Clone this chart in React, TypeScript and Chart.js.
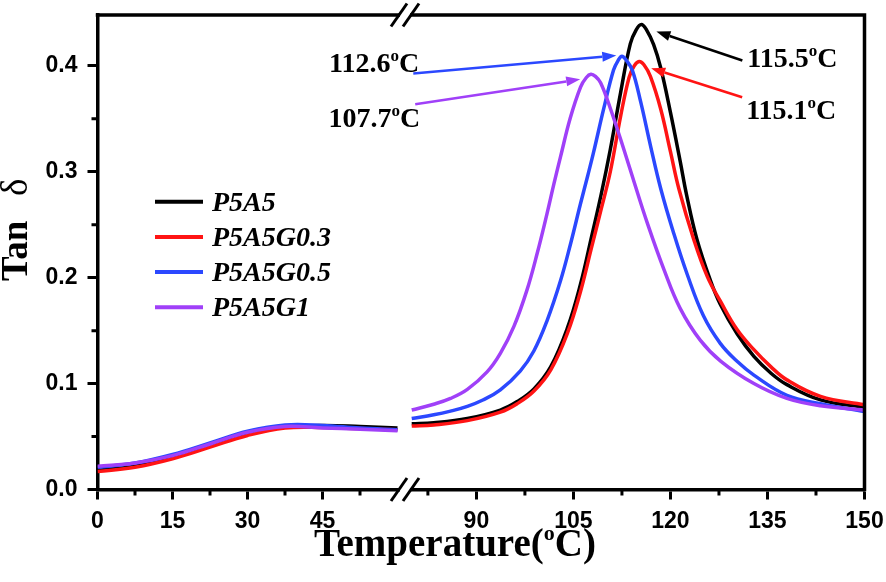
import React, { useEffect, useRef } from 'react';
import { Chart, registerables } from 'chart.js';

Chart.register(...registerables);

const seriesNames = ['P5A5', 'P5A5G0.3', 'P5A5G0.5', 'P5A5G1'];
const seriesColors = ['#000000', '#ff1414', '#2b48ff', '#a040f8'];

// left segment (0-60 °C), shared temperatures
const lowTemps = [0, 7.5, 15, 22.5, 30, 37.5, 45, 52.5, 60];
const p5a5Low = [0.018, 0.022, 0.030, 0.042, 0.053, 0.059, 0.0605, 0.0595, 0.058];
const p5a5g03Low = [0.017, 0.021, 0.029, 0.040, 0.051, 0.058, 0.0585, 0.0575, 0.0565];
const p5a5g05Low = [0.021, 0.025, 0.033, 0.044, 0.055, 0.061, 0.0605, 0.058, 0.0565];
const p5a5g1Low = [0.022, 0.025, 0.032, 0.043, 0.054, 0.0595, 0.058, 0.057, 0.0555];

// right segment (80-150 °C)
const p5a5HighTemps = [80, 83.4, 88.6, 93.7, 96.3, 98.9, 101.5, 104.1, 106.1, 107.7, 109.3, 110.7, 112.3, 113.8, 114.7, 115.5, 116.3, 117.4, 118.5, 120, 121.5, 122.5, 124.1, 126.2, 127.7, 130.3, 132.9, 135.5, 138, 143.2, 150];
const p5a5High = [0.062, 0.063, 0.067, 0.075, 0.083, 0.095, 0.116, 0.153, 0.194, 0.236, 0.279, 0.321, 0.375, 0.421, 0.434, 0.439, 0.434, 0.420, 0.398, 0.356, 0.310, 0.278, 0.236, 0.197, 0.175, 0.147, 0.1256, 0.110, 0.099, 0.0846, 0.0775];

const p5a5g03HighTemps = [80, 83.4, 88.6, 93.7, 96.3, 98.9, 101.5, 104.1, 106.1, 107.7, 109.3, 110.7, 112.3, 113.6, 114.4, 115.15, 115.9, 116.9, 118.5, 120, 121.3, 123.6, 125.7, 127.7, 130.3, 132.9, 135.5, 138, 143.2, 150];
const p5a5g03High = [0.060, 0.061, 0.065, 0.073, 0.081, 0.093, 0.113, 0.148, 0.187, 0.226, 0.265, 0.300, 0.3525, 0.389, 0.400, 0.404, 0.401, 0.390, 0.359, 0.319, 0.284, 0.236, 0.201, 0.178, 0.151, 0.132, 0.116, 0.1035, 0.088, 0.080];

const p5a5g05HighTemps = [80, 83.4, 86, 88.6, 91, 93.7, 96.8, 98.9, 100.9, 103, 104.6, 106.1, 107.2, 108.1, 109.7, 111.2, 111.9, 112.5, 113.2, 114.1, 115.4, 116.9, 118.5, 120.5, 122.6, 125.1, 127.7, 130.3, 132.9, 138, 143.2, 150];
const p5a5g05High = [0.067, 0.0705, 0.074, 0.0785, 0.0845, 0.094, 0.112, 0.131, 0.159, 0.197, 0.233, 0.270, 0.296, 0.318, 0.360, 0.396, 0.405, 0.409, 0.405, 0.396, 0.366, 0.325, 0.284, 0.242, 0.203, 0.164, 0.138, 0.121, 0.108, 0.089, 0.081, 0.0736];

const p5a5g1HighTemps = [80, 83.4, 86, 88.6, 91.65, 93.7, 95.8, 97.8, 99.4, 100.9, 102, 103, 104.5, 106.1, 107, 107.7, 108.4, 109.2, 110.7, 112.8, 114.6, 116.4, 119, 121.5, 124.6, 127.8, 132.9, 138, 143.2, 150];
const p5a5g1High = [0.075, 0.0805, 0.086, 0.0945, 0.111, 0.1285, 0.154, 0.188, 0.223, 0.260, 0.289, 0.314, 0.3505, 0.380, 0.389, 0.392, 0.390, 0.384, 0.360, 0.321, 0.286, 0.252, 0.2076, 0.171, 0.141, 0.121, 0.100, 0.086, 0.079, 0.075];

// peak annotations
const peakTemps = [115.5, 115.1, 112.6, 107.7];
const peakValues = [0.439, 0.404, 0.409, 0.392];

// ticks
const xLowTicks = [0, 15, 30, 45];
const xLowMinor = [7.5, 22.5, 37.5, 52.5];
const xHighTicks = [90, 105, 120, 135, 150];
const xHighMinor = [82.5, 97.5, 112.5, 127.5, 142.5];
const yTicks = [0, 0.1, 0.2, 0.3, 0.4];
const yMinor = [0.05, 0.15, 0.25, 0.35];

const lowSeries = [p5a5Low, p5a5g03Low, p5a5g05Low, p5a5g1Low];
const highTempSeries = [p5a5HighTemps, p5a5g03HighTemps, p5a5g05HighTemps, p5a5g1HighTemps];
const highSeries = [p5a5High, p5a5g03High, p5a5g05High, p5a5g1High];

const SERIF = '"Liberation Serif", "Times New Roman", serif';
const SANS = '"Liberation Sans", Arial, sans-serif';

// style of each annotation: tip offset from peak, tail offset from tip, text offset from tail
const annStyles = [
  { tipDx: 15, tipDy: 7, tailDx: 86, tailDy: 29, align: 'left', tx: 5, ty: 6 },
  { tipDx: 12.4, tipDy: 6.7, tailDx: 91, tailDy: 29, align: 'left', tx: 4, ty: 22 },
  { tipDx: -6.3, tipDy: -0.7, tailDx: -203, tailDy: 18, align: 'right', tx: 6, ty: -2 },
  { tipDx: -10.7, tipDy: 5, tailDx: -165, tailDy: 25, align: 'right', tx: 5, ty: 23 },
];

function drawDegreeText(ctx: CanvasRenderingContext2D, main: string, tail: string, x: number, baseline: number, size: number, supSize: number, supRaise: number, align: string) {
  const mainFont = `bold ${size}px ${SERIF}`;
  const supFont = `bold ${supSize}px ${SERIF}`;
  ctx.font = mainFont;
  const w1 = ctx.measureText(main).width;
  const w3 = ctx.measureText(tail).width;
  ctx.font = supFont;
  const w2 = ctx.measureText('o').width;
  const total = w1 + w2 + w3;
  const sx = align === 'right' ? x - total : align === 'center' ? x - total / 2 : x;
  ctx.textAlign = 'left';
  ctx.textBaseline = 'alphabetic';
  ctx.font = mainFont;
  ctx.fillText(main, sx, baseline);
  ctx.font = supFont;
  ctx.fillText('o', sx + w1, baseline - supRaise);
  ctx.font = mainFont;
  ctx.fillText(tail, sx + w1 + w2, baseline);
}

const decorPlugin = {
  id: 'decor',
  afterDraw(chart: any) {
    const ctx: CanvasRenderingContext2D = chart.ctx;
    const { top, bottom, left, right } = chart.chartArea;
    const xL = chart.scales.xL;
    const xR = chart.scales.xR;
    const y = chart.scales.y;
    ctx.save();

    // frame (top and right)
    ctx.strokeStyle = '#000';
    ctx.lineWidth = 3.5;
    ctx.lineCap = 'square';
    ctx.beginPath();
    ctx.moveTo(left, top);
    ctx.lineTo(right, top);
    ctx.lineTo(right, bottom);
    ctx.stroke();

    // minor ticks
    ctx.lineWidth = 3;
    ctx.lineCap = 'butt';
    ctx.beginPath();
    yMinor.forEach((v) => {
      const py = y.getPixelForValue(v);
      ctx.moveTo(left, py);
      ctx.lineTo(left - 6, py);
    });
    xLowMinor.forEach((v) => {
      const px = xL.getPixelForValue(v);
      ctx.moveTo(px, bottom);
      ctx.lineTo(px, bottom + 6);
    });
    xHighMinor.forEach((v) => {
      const px = xR.getPixelForValue(v);
      ctx.moveTo(px, bottom);
      ctx.lineTo(px, bottom + 6);
    });
    ctx.stroke();

    // axis break
    const bx = xL.right;
    [top, bottom].forEach((yy) => {
      ctx.fillStyle = '#fff';
      ctx.fillRect(bx - 5, yy - 3, 10, 6);
      ctx.strokeStyle = '#000';
      ctx.lineWidth = 3;
      [-6, 6].forEach((off) => {
        ctx.beginPath();
        ctx.moveTo(bx + off - 8, yy + 11.5);
        ctx.lineTo(bx + off + 8, yy - 11.5);
        ctx.stroke();
      });
    });

    // legend
    seriesNames.forEach((name, i) => {
      const ly = 201.7 + i * 35.2;
      ctx.strokeStyle = seriesColors[i];
      ctx.lineWidth = 4;
      ctx.beginPath();
      ctx.moveTo(155, ly);
      ctx.lineTo(203, ly);
      ctx.stroke();
      ctx.fillStyle = '#000';
      ctx.font = `italic bold 28px ${SERIF}`;
      ctx.textAlign = 'left';
      ctx.textBaseline = 'alphabetic';
      ctx.fillText(name, 212, ly + 9);
    });

    // peak annotations
    peakTemps.forEach((t, i) => {
      const st = annStyles[i];
      const px = xR.getPixelForValue(t);
      const py = y.getPixelForValue(peakValues[i]);
      const tipX = px + st.tipDx;
      const tipY = py + st.tipDy;
      const tailX = tipX + st.tailDx;
      const tailY = tipY + st.tailDy;
      const color = seriesColors[i];
      ctx.strokeStyle = color;
      ctx.fillStyle = color;
      ctx.lineWidth = 2.5;
      const ang = Math.atan2(tipY - tailY, tipX - tailX);
      const headLen = 14;
      const headW = 5;
      const bxp = tipX - headLen * Math.cos(ang);
      const byp = tipY - headLen * Math.sin(ang);
      ctx.beginPath();
      ctx.moveTo(tailX, tailY);
      ctx.lineTo(bxp, byp);
      ctx.stroke();
      ctx.beginPath();
      ctx.moveTo(tipX, tipY);
      ctx.lineTo(bxp + headW * Math.sin(ang), byp - headW * Math.cos(ang));
      ctx.lineTo(bxp - headW * Math.sin(ang), byp + headW * Math.cos(ang));
      ctx.closePath();
      ctx.fill();
      ctx.fillStyle = '#000';
      drawDegreeText(ctx, t.toFixed(1), 'C', tailX + st.tx, tailY + st.ty, 28, 17, 11, st.align);
    });

    // x title
    ctx.fillStyle = '#000';
    drawDegreeText(ctx, 'Temperature(', 'C)', 455, 556, 39, 22, 16, 'center');

    // y title (rotated)
    ctx.save();
    ctx.translate(27, 281);
    ctx.rotate(-Math.PI / 2);
    ctx.textAlign = 'left';
    ctx.textBaseline = 'alphabetic';
    ctx.font = `bold 37px ${SERIF}`;
    ctx.fillText('Tan', 0, 0);
    ctx.font = `37px ${SERIF}`;
    ctx.fillText('δ', 85, 0);
    ctx.restore();

    ctx.restore();
  },
};

function toPoints(xs: number[], ys: number[]) {
  return xs.map((x, i) => ({ x, y: ys[i] }));
}

export default function App() {
  const ref = useRef<HTMLCanvasElement | null>(null);

  useEffect(() => {
    document.body.style.margin = '0';
    const canvas = ref.current;
    if (!canvas) return;

    const datasets: any[] = [];
    seriesNames.forEach((name, i) => {
      datasets.push({
        label: name,
        data: toPoints(lowTemps, lowSeries[i]),
        xAxisID: 'xL',
        yAxisID: 'y',
        borderColor: seriesColors[i],
        order: 3 - i,
      });
    });
    seriesNames.forEach((name, i) => {
      datasets.push({
        label: name + ' (high)',
        data: toPoints(highTempSeries[i], highSeries[i]),
        xAxisID: 'xR',
        yAxisID: 'y',
        borderColor: seriesColors[i],
        order: 3 - i,
      });
    });

    const tickFont = { family: SANS, weight: 'bold' as const, size: 23 };
    const commonX = (ticksArr: number[]) => ({
      type: 'linear' as const,
      position: 'bottom' as const,
      stack: 'temp',
      afterBuildTicks: (s: any) => {
        s.ticks = ticksArr.map((v) => ({ value: v }));
      },
      afterFit: (s: any) => {
        s.height = 92.5;
        s.paddingLeft = 0;
        s.paddingRight = 0;
      },
      grid: { drawOnChartArea: false, drawTicks: true, tickLength: 10, tickWidth: 3, tickColor: '#000' },
      border: { display: true, width: 3.5, color: '#000' },
      ticks: {
        color: '#000',
        font: tickFont,
        padding: 8,
        maxRotation: 0,
        autoSkip: false,
        callback: (v: any) => String(v),
      },
    });

    const chart = new Chart(canvas, {
      type: 'line',
      data: { datasets },
      options: {
        animation: false,
        responsive: false,
        layout: { padding: { left: 0, top: 15, right: 21.5, bottom: 0 } },
        plugins: { legend: { display: false }, tooltip: { enabled: false } },
        elements: {
          point: { radius: 0 },
          line: { borderWidth: 3.5, tension: 0.4, fill: false },
        },
        scales: {
          xL: { ...commonX(xLowTicks), min: 0, max: 61.5, stackWeight: 307.5 },
          xR: { ...commonX(xHighTicks), min: 78.96, max: 150, stackWeight: 459.5 },
          y: {
            type: 'linear',
            position: 'left',
            min: 0,
            max: 0.448,
            afterBuildTicks: (s: any) => {
              s.ticks = yTicks.map((v) => ({ value: v }));
            },
            afterFit: (s: any) => {
              s.width = 97.5;
              s.paddingTop = 0;
              s.paddingBottom = 0;
            },
            grid: { drawOnChartArea: false, drawTicks: true, tickLength: 10, tickWidth: 3, tickColor: '#000' },
            border: { display: true, width: 3.5, color: '#000' },
            ticks: {
              color: '#000',
              font: tickFont,
              padding: 10,
              callback: (v: any) => Number(v).toFixed(1),
            },
          },
        },
      } as any,
      plugins: [decorPlugin],
    });

    return () => {
      chart.destroy();
    };
  }, []);

  return (
    <div style={{ width: 886, height: 582 }}>
      <canvas ref={ref} width={886} height={582} style={{ display: 'block' }} />
    </div>
  );
}
